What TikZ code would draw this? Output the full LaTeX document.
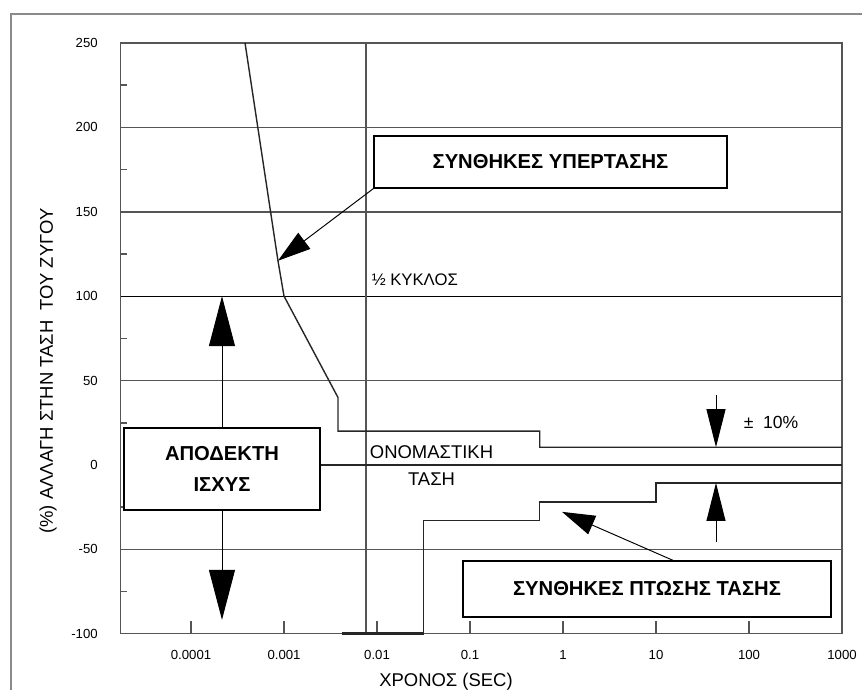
\documentclass[tikz,border=0pt]{standalone}
\usepackage{fontspec}
\setmainfont{Liberation Sans}
\usetikzlibrary{arrows.meta, positioning}
\definecolor{framegray}{HTML}{8A8A8A}
\definecolor{gridgray}{HTML}{555555}
\tikzset{
  % εξωτερικό πλαίσιο και πλαίσιο διαγράμματος
  outerframe/.style={draw=framegray, line width=1.4pt},
  plotframe/.style={draw=gridgray, line width=0.9pt},
  % γραμμές πλέγματος
  gridln/.style={draw=gridgray, line width=0.9pt},
  refln/.style={draw=black, line width=0.6pt},
  % όρια ανοχής
  curve/.style={draw=black!85, line width=0.8pt},
  % κουτιά με κείμενο
  infobox/.style={draw=black, line width=0.7pt, fill=white, align=center,
    font=\fontsize{11.5}{17.5}\selectfont\bfseries, inner sep=2pt},
  % βέλη
  callout/.style={-{Triangle[length=6.6mm, width=4mm]}, line width=0.55pt},
  bigarrow/.style={-{Triangle[length=10mm, width=5.2mm]}, line width=0.55pt},
  tolarrow/.style={-{Triangle[length=7.6mm, width=3.8mm]}, line width=0.55pt},
  % ετικέτες
  ticklbl/.style={font=\fontsize{7.5}{9}\selectfont, inner sep=0pt},
  lbl/.style={font=\fontsize{10.5}{12}\selectfont, inner sep=0pt},
  smalllbl/.style={font=\fontsize{9.5}{11}\selectfont, inner sep=0pt},
}
\begin{document}
\begin{tikzpicture}[x=1.86cm, y=0.03376cm]
  \useasboundingbox (-6.054,-133.3) rectangle (3.215,275.5);
  \draw[outerframe] (3.215,267.2) -- (-5.935,267.2) -- (-5.935,-133.3);
  % πλέγμα
  \foreach \v in {200,150,50,-50} \draw[gridln] (-4.76,\v) -- (3,\v);
  \draw[refln] (-4.76,100) -- (3,100);
  \foreach \v in {225,175,125,75,25,-25,-75} \draw[gridln] (-4.76,\v) -- ++(0.075,0);
  \foreach \e in {-4,...,2} \draw[gridln] (\e,-100) -- ++(0,7.5);
  \draw[gridln] (-2.12,-100) -- (-2.12,250);
  \draw[plotframe] (-4.76,-100) rectangle (3,250);
  \foreach \v in {250,200,...,-100} \node[ticklbl, anchor=east] (y\v) at (-5.0,\v) {\v};
  \foreach \e/\t in {-4/0.0001, -3/0.001, -2/0.01, -1/0.1, 0/1, 1/10, 2/100, 3/1000}
    \node[ticklbl] (x\e) at (\e,-112.6) {\t};
  % καμπύλες υπέρτασης και πτώσης τάσης
  \draw[curve] (-3.419,250) -- (-3.065,121) -- (-3,100) -- (-2.42,40) -- (-2.42,20)
    -- (-0.25,20) -- (-0.25,10.5) -- (3,10.5);
  \draw[curve] (-1.5,-100) -- (-1.5,-33) -- (-0.25,-33) -- (-0.25,-22) -- (1,-22)
    -- (1,-10.7) -- (3,-10.7);
  \draw[curve, line width=1.6pt] (-2.38,-100) -- (-1.5,-100);
  % κουτιά
  \node[infobox, minimum width=7.06cm, minimum height=1.04cm] (over) at (-0.135,179.5) {ΣΥΝΘΗΚΕΣ ΥΠΕΡΤΑΣΗΣ};
  \node[infobox, minimum width=3.92cm, minimum height=1.64cm] (accept) at (-3.667,-2.4) {ΑΠΟΔΕΚΤΗ\\ΙΣΧΥΣ};
  \node[infobox, minimum width=7.36cm, minimum height=1.12cm] (under) at (0.903,-73.5) {ΣΥΝΘΗΚΕΣ ΠΤΩΣΗΣ ΤΑΣΗΣ};
  \coordinate (nomR) at (3,0);
  \draw[curve] (accept.east |- nomR) -- (nomR);
  % ετικέτες
  \node[smalllbl, anchor=west] (half) at (-2.06,110) {½ ΚΥΚΛΟΣ};
  \node[lbl] (nom1) at (-1.414,7.7) {ΟΝΟΜΑΣΤΙΚΗ};
  \node[lbl, below=2.7mm of nom1] (nom2) {ΤΑΣΗ};
  \node[lbl, font=\fontsize{10}{12}\selectfont] (tol) at (2.237,24.9) {±\ \ 10\%};
  \node[lbl] (tlabel) at (-1.258,-128.6) {ΧΡΟΝΟΣ (SEC)};
  \node[lbl, rotate=90] (vlabel) at (-5.538,55.7) {(\%) ΑΛΛΑΓΗ ΣΤΗΝ ΤΑΣΗ\ \ ΤΟΥ ΖΥΓΟΥ};
  % βέλη
  \coordinate (otip) at (-3.065,121);
  \coordinate (atop) at (-3.667,100);
  \coordinate (abot) at (-3.667,-91.8);
  \coordinate (utip) at (-0.011,-27.8);
  \coordinate (tolA) at (1.645,41.5);
  \coordinate (tolB) at (1.645,10.5);
  \coordinate (tolC) at (1.645,-45.6);
  \coordinate (tolD) at (1.645,-10.7);
  \draw[callout] (over.south west) -- (otip);
  \draw[bigarrow] (accept.north) -- (atop);
  \draw[bigarrow] (accept.south) -- (abot);
  \draw[callout] ([xshift=5.2mm]under.north) -- (utip);
  \draw[tolarrow] (tolA) -- (tolB);
  \draw[tolarrow] (tolC) -- (tolD);
\end{tikzpicture}
\end{document}
